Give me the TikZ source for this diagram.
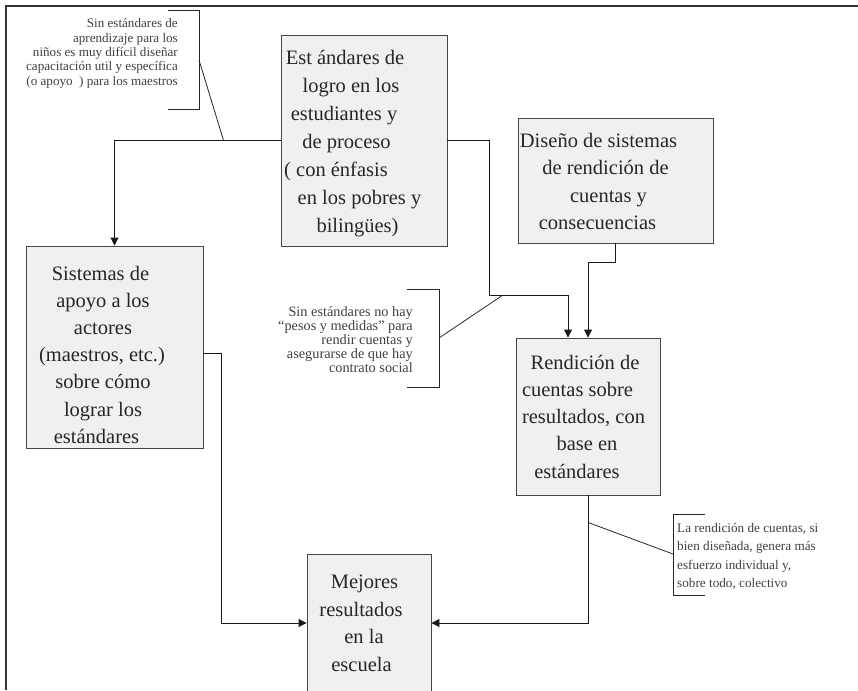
\documentclass[tikz,border=0pt]{standalone}
\usepackage{fontspec}
\setmainfont{Liberation Serif}
\usetikzlibrary{arrows.meta,calc}
\begin{document}
\begin{tikzpicture}[x=1pt,y=-1pt,
  box/.style={draw=black!72, fill=black!6, line width=0.9pt, inner sep=0pt},
  arr/.style={draw=black!90, line width=0.9pt, -{Triangle[length=8pt,width=8pt]}},
  ln/.style={draw=black!85, line width=0.8pt},
  big/.style={anchor=base, inner sep=0pt, font=\fontsize{20.5}{24}\selectfont, text=black!85},
  smr/.style={anchor=base east, inner sep=0pt, font=\fontsize{13.1}{15}\selectfont, text=black!75},
  smm/.style={anchor=base east, inner sep=0pt, font=\fontsize{14.3}{16}\selectfont, text=black!75},
  sml/.style={anchor=base west, inner sep=0pt, font=\fontsize{13.2}{15}\selectfont, text=black!75}
]
\useasboundingbox (0,0) rectangle (858,690);
% frame
\draw[line width=1.6pt, black!80] (858,6) -- (6,6) -- (6,690);

% boxes
\node[box, minimum width=166pt, minimum height=211pt] (A) at (364,140.5) {};
\node[box, minimum width=195pt, minimum height=125pt] (B) at (615.5,180.5) {};
\node[box, minimum width=177pt, minimum height=202pt] (C) at (114.5,347) {};
\node[box, minimum width=144pt, minimum height=157pt] (D) at (588,416.5) {};
\node[box, minimum width=124pt, minimum height=138pt] (E) at (369,623) {};

% box texts
\foreach \t/\x/\y [count=\i] in {{Est ándares de}/345/65, {logro en los}/351/92.9,
  {estudiantes y}/344/120.8, {de proceso}/346.5/148.7}
  \node[big] (ta\i) at (\x,\y) {\t};
\node[big, anchor=base west] (ta5) at (284,176.6) {( con énfasis};
\foreach \t/\x/\y [count=\i from 6] in {{en los pobres y}/359.5/204.5, {bilingües)}/357.5/232.4}
  \node[big] (ta\i) at (\x,\y) {\t};
\foreach \t/\x/\y [count=\i] in {{Diseño de sistemas}/598.5/147, {de rendición de}/605.5/174.5,
  {cuentas y}/608.5/202, {consecuencias}/597.5/229.5}
  \node[big] (tb\i) at (\x,\y) {\t};
\foreach \t/\x/\y [count=\i] in {{Sistemas de}/100.5/280, {apoyo a los}/103/307.2,
  {actores}/103/334.4, {(maestros, etc.)}/102/361.6, {sobre cómo}/103/388.8,
  {lograr los}/103/416, {estándares}/96.5/443.2}
  \node[big] (tc\i) at (\x,\y) {\t};
\foreach \t/\x/\y [count=\i] in {{Rendición de}/585/369, {cuentas sobre}/577.5/396.3,
  {resultados, con}/583.5/423.6, {base en}/587/450.9, {estándares}/577/478.2}
  \node[big] (td\i) at (\x,\y) {\t};
\foreach \t/\x/\y [count=\i] in {{Mejores}/364.5/588.3, {resultados}/361/616.7,
  {en la}/364/643.5, {escuela}/361.5/671.7}
  \node[big] (te\i) at (\x,\y) {\t};

% callout texts
\foreach \t/\y [count=\i] in {{Sin estándares de}/27.7, {aprendizaje para los}/42.1,
  {niños es muy difícil diseñar}/56.5, {capacitación util y específica}/70.8,
  {(o apoyo\ \ ) para los maestros}/85}
  \node[smr] (n1\i) at (178,\y) {\t};
\foreach \t/\y [count=\i] in {{Sin estándares no hay}/316, {“pesos y medidas” para}/330.2,
  {rendir cuentas y}/344.4, {asegurarse de que hay}/358.5, {contrato social}/372.7}
  \node[smm] (n2\i) at (413,\y) {\t};
\foreach \t/\y [count=\i] in {{La rendición de cuentas, si}/532.5, {bien diseñada, genera más}/550.8,
  {esfuerzo individual y,}/569, {sobre todo, colectivo}/587.3}
  \node[sml] (n3\i) at (677,\y) {\t};

% connectors
\coordinate (k1) at (489,295);
\draw[arr] (A.west) -| (C.north);
\draw[arr] (A.east) -| (k1) -| ($(D.north)+(-20,0)$);
\draw[arr] (B.south) |- ($(D.north)+(0,-75)$) -- (D.north);
\draw[arr] ($(C.east)+(0,6)$) -| ($(E.west)+(-85,0)$) -- (E.west);
\draw[arr] (D.south) |- (E.east);

% callout brackets and leaders
\coordinate (b1) at (199,60);
\coordinate (j1) at ($(A.west)+(-57,0)$);
\draw[ln] (168,10) -- (199,10) -- (199,109) -- (168,109);
\draw[ln] (b1) -- (j1);

\coordinate (b2) at (439,338);
\coordinate (j2) at ($(k1)+(14,0)$);
\draw[ln] (407,289) -- (439,289) -- (439,387) -- (407,387);
\draw[ln] (b2) -- (j2);

\coordinate (b3) at (673,554);
\coordinate (j3) at ($(D.south)+(0,27)$);
\draw[ln] (705,514) -- (673,514) -- (673,595) -- (705,595);
\draw[ln] (b3) -- (j3);
\end{tikzpicture}
\end{document}
